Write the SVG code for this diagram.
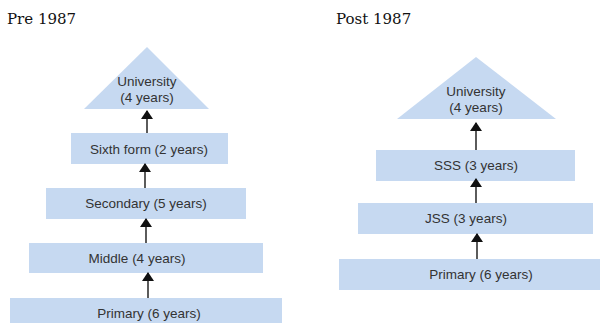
<svg xmlns="http://www.w3.org/2000/svg" width="600" height="323" viewBox="0 0 600 323">
<defs>
<style>
.box{fill:#c6d9f1;}
.lbl{font-family:"Liberation Sans","Open Sans",sans-serif;font-size:13.5px;fill:#333;text-anchor:middle;dominant-baseline:central;}
.ttl{font-family:"DejaVu Serif",serif;font-size:15px;fill:#111;}
.conn line{stroke:#333;stroke-width:1.6;marker-end:url(#ah);}
</style>
<marker id="ah" viewBox="0 0 9 12" refX="8" refY="6" markerWidth="9" markerHeight="12" markerUnits="userSpaceOnUse" orient="auto">
<path d="M0,0 L9,6 L0,12 Z" fill="#111"/>
</marker>
</defs>
<rect width="600" height="323" fill="#fff"/>
<text class="ttl" x="7" y="24">Pre 1987</text>
<text class="ttl" x="336" y="24">Post 1987</text>

<g id="pre-university"><polygon class="box" points="147,47 84,109 209,109"/><text class="lbl" x="147" y="81">University</text><text class="lbl" x="147" y="97">(4 years)</text></g>
<g id="pre-sixth"><rect class="box" x="71" y="133" width="157" height="31"/><text class="lbl" x="149" y="149">Sixth form (2 years)</text></g>
<g id="pre-secondary"><rect class="box" x="46" y="188" width="200" height="31"/><text class="lbl" x="146" y="203">Secondary (5 years)</text></g>
<g id="pre-middle"><rect class="box" x="29" y="243" width="234" height="30"/><text class="lbl" x="137" y="258">Middle (4 years)</text></g>
<g id="pre-primary"><rect class="box" x="10" y="298" width="272" height="30"/><text class="lbl" x="149" y="313">Primary (6 years)</text></g>

<g id="post-university"><polygon class="box" points="476,57 397,119 556,119"/><text class="lbl" x="476" y="91">University</text><text class="lbl" x="476" y="107">(4 years)</text></g>
<g id="post-sss"><rect class="box" x="376" y="150" width="199" height="31"/><text class="lbl" x="476" y="165">SSS (3 years)</text></g>
<g id="post-jss"><rect class="box" x="358" y="203" width="235" height="31"/><text class="lbl" x="466" y="218">JSS (3 years)</text></g>
<g id="post-primary"><rect class="box" x="339" y="259" width="261" height="31"/><text class="lbl" x="481" y="274">Primary (6 years)</text></g>

<g class="conn">
<line x1="147" y1="133" x2="147" y2="111"/>
<line x1="145" y1="188" x2="145" y2="164"/>
<line x1="146" y1="243" x2="146" y2="219"/>
<line x1="148" y1="298" x2="148" y2="273"/>
<line x1="476" y1="150" x2="476" y2="123"/>
<line x1="476" y1="203" x2="476" y2="179"/>
<line x1="477" y1="259" x2="477" y2="234"/>
</g>
</svg>
